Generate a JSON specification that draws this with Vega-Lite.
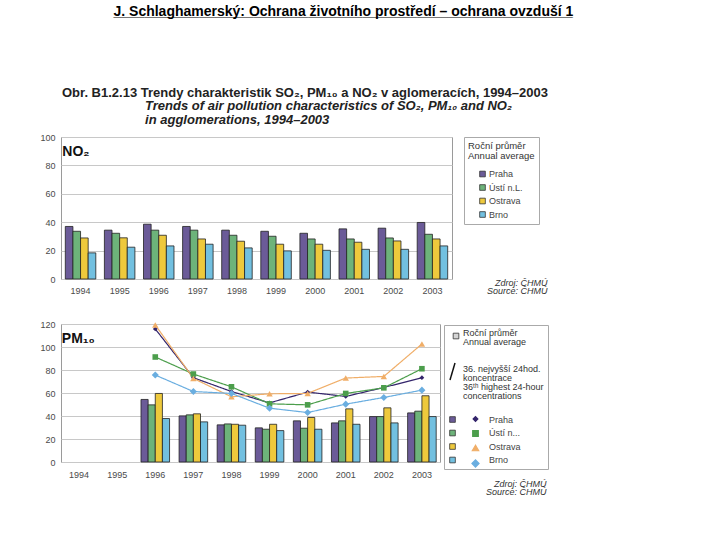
{
  "$schema": "https://vega.github.io/schema/vega-lite/v6.json",
  "background": "white",
  "padding": {"left": 39, "top": 5, "right": 5, "bottom": 5},
  "config": {
    "font": "Liberation Sans",
    "view": {"stroke": "#9a9a9a", "strokeWidth": 1},
    "axis": {"labelFont": "Liberation Sans", "labelFontSize": 9, "labelColor": "#4a4a4a", "domain": false, "ticks": false, "gridColor": "#c8c8c8", "gridWidth": 1},
    "legend": {"labelFont": "Liberation Sans", "titleFont": "Liberation Sans", "labelFontWeight": "normal"}
  },
  "title": {"text": "J. Schlaghamerský: Ochrana životního prostředí – ochrana ovzduší 1", "subtitle": "___________________________________________________________", "anchor": "start", "frame": "bounds", "dx": 74, "fontSize": 14, "fontWeight": "bold", "color": "#000", "subtitleFontSize": 14, "subtitleFontWeight": "bold", "subtitleColor": "#000", "subtitlePadding": -14, "offset": 67},
  "datasets": {
    "no2": [
      {"year": "1994", "city": "Praha", "value": 37}, {"year": "1994", "city": "Ústí n.L.", "value": 33.6}, {"year": "1994", "city": "Ostrava", "value": 28.9}, {"year": "1994", "city": "Brno", "value": 18.4},
      {"year": "1995", "city": "Praha", "value": 34.4}, {"year": "1995", "city": "Ústí n.L.", "value": 32.2}, {"year": "1995", "city": "Ostrava", "value": 29}, {"year": "1995", "city": "Brno", "value": 22.4},
      {"year": "1996", "city": "Praha", "value": 38.6}, {"year": "1996", "city": "Ústí n.L.", "value": 34.4}, {"year": "1996", "city": "Ostrava", "value": 30.8}, {"year": "1996", "city": "Brno", "value": 23.3},
      {"year": "1997", "city": "Praha", "value": 37}, {"year": "1997", "city": "Ústí n.L.", "value": 34.4}, {"year": "1997", "city": "Ostrava", "value": 28.2}, {"year": "1997", "city": "Brno", "value": 24.5},
      {"year": "1998", "city": "Praha", "value": 34.4}, {"year": "1998", "city": "Ústí n.L.", "value": 30.8}, {"year": "1998", "city": "Ostrava", "value": 26.6}, {"year": "1998", "city": "Brno", "value": 21.9},
      {"year": "1999", "city": "Praha", "value": 33.6}, {"year": "1999", "city": "Ústí n.L.", "value": 30.1}, {"year": "1999", "city": "Ostrava", "value": 24.5}, {"year": "1999", "city": "Brno", "value": 19.8},
      {"year": "2000", "city": "Praha", "value": 32.2}, {"year": "2000", "city": "Ústí n.L.", "value": 28.2}, {"year": "2000", "city": "Ostrava", "value": 24.5}, {"year": "2000", "city": "Brno", "value": 20.2},
      {"year": "2001", "city": "Praha", "value": 35.3}, {"year": "2001", "city": "Ústí n.L.", "value": 28.2}, {"year": "2001", "city": "Ostrava", "value": 25.9}, {"year": "2001", "city": "Brno", "value": 20.9},
      {"year": "2002", "city": "Praha", "value": 35.8}, {"year": "2002", "city": "Ústí n.L.", "value": 28.9}, {"year": "2002", "city": "Ostrava", "value": 26.8}, {"year": "2002", "city": "Brno", "value": 20.9},
      {"year": "2003", "city": "Praha", "value": 39.8}, {"year": "2003", "city": "Ústí n.L.", "value": 31.5}, {"year": "2003", "city": "Ostrava", "value": 28.2}, {"year": "2003", "city": "Brno", "value": 23.3}
    ],
    "pmavg": [
      {"year": "1996", "city": "Praha", "value": 54.4}, {"year": "1996", "city": "Ústí n.L.", "value": 49.7}, {"year": "1996", "city": "Ostrava", "value": 59.6}, {"year": "1996", "city": "Brno", "value": 37.8},
      {"year": "1997", "city": "Praha", "value": 40.1}, {"year": "1997", "city": "Ústí n.L.", "value": 41}, {"year": "1997", "city": "Ostrava", "value": 41.9}, {"year": "1997", "city": "Brno", "value": 34.9},
      {"year": "1998", "city": "Praha", "value": 32.3}, {"year": "1998", "city": "Ústí n.L.", "value": 33.1}, {"year": "1998", "city": "Ostrava", "value": 32.8}, {"year": "1998", "city": "Brno", "value": 32},
      {"year": "1999", "city": "Praha", "value": 29.7}, {"year": "1999", "city": "Ústí n.L.", "value": 28.5}, {"year": "1999", "city": "Ostrava", "value": 32.8}, {"year": "1999", "city": "Brno", "value": 27.3},
      {"year": "2000", "city": "Praha", "value": 35.8}, {"year": "2000", "city": "Ústí n.L.", "value": 29.4}, {"year": "2000", "city": "Ostrava", "value": 38.7}, {"year": "2000", "city": "Brno", "value": 28.5},
      {"year": "2001", "city": "Praha", "value": 34}, {"year": "2001", "city": "Ústí n.L.", "value": 35.8}, {"year": "2001", "city": "Ostrava", "value": 46.2}, {"year": "2001", "city": "Brno", "value": 32.8},
      {"year": "2002", "city": "Praha", "value": 39.5}, {"year": "2002", "city": "Ústí n.L.", "value": 39.5}, {"year": "2002", "city": "Ostrava", "value": 47.1}, {"year": "2002", "city": "Brno", "value": 34},
      {"year": "2003", "city": "Praha", "value": 42.7}, {"year": "2003", "city": "Ústí n.L.", "value": 44.2}, {"year": "2003", "city": "Ostrava", "value": 57.6}, {"year": "2003", "city": "Brno", "value": 39.5}
    ],
    "pm36": [
      {"year": "1996", "city": "Praha", "value": 115.7}, {"year": "1997", "city": "Praha", "value": 73.3}, {"year": "1998", "city": "Praha", "value": 61.3}, {"year": "1999", "city": "Praha", "value": 51.4}, {"year": "2000", "city": "Praha", "value": 60.8}, {"year": "2001", "city": "Praha", "value": 57}, {"year": "2002", "city": "Praha", "value": 64.8}, {"year": "2003", "city": "Praha", "value": 73.3},
      {"year": "1996", "city": "Ústí n...", "value": 91.3}, {"year": "1997", "city": "Ústí n...", "value": 76.5}, {"year": "1998", "city": "Ústí n...", "value": 65.4}, {"year": "1999", "city": "Ústí n...", "value": 50.6}, {"year": "2000", "city": "Ústí n...", "value": 49.7}, {"year": "2001", "city": "Ústí n...", "value": 59.6}, {"year": "2002", "city": "Ústí n...", "value": 64.5}, {"year": "2003", "city": "Ústí n...", "value": 81.1},
      {"year": "1996", "city": "Ostrava", "value": 119.2}, {"year": "1997", "city": "Ostrava", "value": 72.7}, {"year": "1998", "city": "Ostrava", "value": 56.7}, {"year": "1999", "city": "Ostrava", "value": 59.3}, {"year": "2000", "city": "Ostrava", "value": 59.6}, {"year": "2001", "city": "Ostrava", "value": 73}, {"year": "2002", "city": "Ostrava", "value": 74.4}, {"year": "2003", "city": "Ostrava", "value": 102.6},
      {"year": "1996", "city": "Brno", "value": 75.6}, {"year": "1997", "city": "Brno", "value": 61.3}, {"year": "1998", "city": "Brno", "value": 59.6}, {"year": "1999", "city": "Brno", "value": 46.8}, {"year": "2000", "city": "Brno", "value": 43}, {"year": "2001", "city": "Brno", "value": 50.3}, {"year": "2002", "city": "Brno", "value": 56.1}, {"year": "2003", "city": "Brno", "value": 62.5}
    ]
  },
  "spacing": 23,
  "resolve": {
    "scale": {"x": "independent", "y": "independent", "xOffset": "independent", "fill": "independent", "color": "independent", "shape": "independent", "size": "independent", "opacity": "independent", "strokeDash": "independent"}
  },
  "vconcat": [
    {
      "width": 391,
      "height": 142,
      "title": {
        "text": "Obr. B1.2.13  Trendy charakteristik SO₂, PM₁₀ a NO₂ v aglomeracích, 1994–2003",
        "subtitle": ["\u200b\u00a0\u00a0\u00a0\u00a0\u00a0\u00a0\u00a0\u00a0\u00a0\u00a0\u00a0\u00a0\u00a0\u00a0\u00a0\u00a0\u00a0\u00a0\u00a0\u00a0\u00a0\u00a0\u00a0Trends of air pollution characteristics of SO₂, PM₁₀ and NO₂", "\u200b\u00a0\u00a0\u00a0\u00a0\u00a0\u00a0\u00a0\u00a0\u00a0\u00a0\u00a0\u00a0\u00a0\u00a0\u00a0\u00a0\u00a0\u00a0\u00a0\u00a0\u00a0\u00a0\u00a0in agglomerations, 1994–2003"],
        "anchor": "start", "frame": "group", "dx": 1,
        "fontSize": 13, "fontWeight": "bold", "color": "#222",
        "subtitleFontSize": 13, "subtitleFontWeight": "bold", "subtitleFontStyle": "italic", "subtitleColor": "#222", "subtitlePadding": 0.5, "subtitleLineHeight": 14,
        "offset": 6
      },
      "layer": [
        {
          "data": {"name": "no2"},
          "mark": {"type": "bar", "stroke": "#222", "strokeWidth": 0.8},
          "encoding": {
            "x": {"field": "year", "type": "nominal", "sort": null,
              "scale": {"domain": ["1994", "1995", "1996", "1997", "1998", "1999", "2000", "2001", "2002", "2003"], "paddingInner": 0.22, "paddingOuter": 0.11},
              "axis": {"labelAngle": 0, "labelPadding": 7, "grid": false, "title": ["Zdroj: ČHMÚ", "Source: ČHMÚ"], "titleX": 486, "titleY": 6, "titleAlign": "right", "titleAnchor": null, "titleBaseline": "alphabetic", "titleFontStyle": "italic", "titleFontWeight": "normal", "titleFontSize": 9, "titleColor": "#333", "titleLineHeight": 8.5}},
            "xOffset": {"field": "city", "type": "nominal", "sort": null, "scale": {"domain": ["Praha", "Ústí n.L.", "Ostrava", "Brno"]}},
            "y": {"field": "value", "type": "quantitative", "scale": {"domain": [0, 100]}, "axis": {"values": [0, 20, 40, 60, 80, 100], "title": null, "labelPadding": 6, "labelOverlap": false}},
            "fill": {"field": "city", "type": "nominal", "sort": null,
              "scale": {"domain": ["Praha", "Ústí n.L.", "Ostrava", "Brno"], "range": ["#6b5b98", "#6db37a", "#eec93c", "#72c0e0"]},
              "legend": {"orient": "none", "legendX": 403, "legendY": 0, "strokeColor": "#aaa", "padding": 4,
                "title": ["Roční průměr", "Annual average"], "titleFontSize": 9.5, "titleFontWeight": "normal", "titleColor": "#333", "titleLineHeight": 10, "titlePadding": 9,
                "labelFontSize": 9, "labelFontWeight": "normal", "labelColor": "#444", "labelOffset": 2, "symbolType": "square", "symbolSize": 32, "symbolOffset": 10, "symbolStrokeColor": "#333", "symbolStrokeWidth": 0.8, "rowPadding": 3.5}}
          }
        },
        {
          "data": {"values": [{"label": "NO₂"}]},
          "mark": {"type": "text", "align": "left", "baseline": "middle", "fontSize": 14, "fontWeight": "bold", "color": "#111", "dx": -3},
          "encoding": {
            "x": {"datum": "1994", "bandPosition": 0},
            "y": {"datum": 89.5, "axis": {"values": [0, 20, 40, 60, 80, 100], "title": null, "labelPadding": 6, "labelOverlap": false}},
            "text": {"field": "label"}
          }
        }
      ]
    },
    {
      "width": 379,
      "height": 138,
      "layer": [
        {
          "data": {"name": "pmavg"},
          "mark": {"type": "bar", "stroke": "#222", "strokeWidth": 0.8},
          "encoding": {
            "x": {"field": "year", "type": "nominal", "sort": null,
              "scale": {"domain": ["1994", "1995", "1996", "1997", "1998", "1999", "2000", "2001", "2002", "2003"], "paddingInner": 0.25, "paddingOuter": 0.1},
              "axis": {"labelAngle": 0, "labelPadding": 8, "grid": false, "title": ["Zdroj: ČHMÚ", "Source: ČHMÚ"], "titleX": 485, "titleY": 24, "titleAlign": "right", "titleAnchor": null, "titleBaseline": "alphabetic", "titleFontStyle": "italic", "titleFontWeight": "normal", "titleFontSize": 9, "titleColor": "#333", "titleLineHeight": 8.5}},
            "xOffset": {"field": "city", "type": "nominal", "sort": null, "scale": {"domain": ["Praha", "Ústí n.L.", "Ostrava", "Brno"]}},
            "y": {"field": "value", "type": "quantitative", "scale": {"domain": [0, 120]}, "axis": {"values": [0, 20, 40, 60, 80, 100, 120], "title": null, "labelPadding": 6, "labelOverlap": false}},
            "fill": {"field": "city", "type": "nominal", "sort": null,
              "scale": {"domain": ["Praha", "Ústí n.L.", "Ostrava", "Brno"], "range": ["#6b5b98", "#6db37a", "#eec93c", "#72c0e0"]},
              "legend": {"orient": "none", "legendX": 383, "legendY": 1, "strokeColor": "#aaa", "padding": 4,
                "title": ["\u200b\u00a0\u00a0\u00a0\u00a0\u00a0\u00a0Roční průměr", "\u200b\u00a0\u00a0\u00a0\u00a0\u00a0\u00a0Annual average", "\u200b\u00a0", "\u200b\u00a0", "\u200b\u00a0\u00a0\u00a0\u00a0\u00a0\u00a036. nejvyšší 24hod.", "\u200b\u00a0\u00a0\u00a0\u00a0\u00a0\u00a0koncentrace", "\u200b\u00a0\u00a0\u00a0\u00a0\u00a0\u00a036ᵗʰ highest 24-hour", "\u200b\u00a0\u00a0\u00a0\u00a0\u00a0\u00a0concentrations"],
                "titleFontSize": 9, "titleFontWeight": "normal", "titleColor": "#333", "titleLineHeight": 9, "titlePadding": 14,
                "labelExpr": "datum.label == 'Ústí n.L.' ? 'Ústí n...' : datum.label", "labelFontSize": 9, "labelFontWeight": "normal", "labelColor": "#444", "labelOffset": 32,
                "symbolType": "square", "symbolSize": 32, "symbolStrokeColor": "#333", "symbolStrokeWidth": 0.8, "rowPadding": 3.5}},
            "opacity": {"datum": "Roční průměr", "type": "ordinal", "scale": {"range": [1, 1]},
              "legend": {"orient": "none", "legendX": 390, "legendY": 7, "title": null, "labelExpr": "''", "symbolType": "square", "symbolSize": 32, "symbolFillColor": "#d4d4d4", "symbolStrokeColor": "#333", "symbolStrokeWidth": 0.8}}
          }
        },
        {
          "data": {"name": "pm36"},
          "mark": {"type": "line", "strokeWidth": 1.2},
          "encoding": {
            "x": {"field": "year", "type": "nominal", "sort": null},
            "y": {"field": "value", "type": "quantitative", "axis": {"values": [0, 20, 40, 60, 80, 100, 120], "title": null, "labelPadding": 6, "labelOverlap": false}},
            "color": {"field": "city", "type": "nominal", "sort": null,
              "scale": {"domain": ["Praha", "Ústí n...", "Ostrava", "Brno"], "range": ["#33246b", "#4c9e4c", "#f0ae68", "#6aaee0"]},
              "legend": {"orient": "none", "legendX": 410, "legendY": 90.5, "title": null, "labelExpr": "'\u00a0'",
                "labelFontSize": 9, "labelOffset": 3, "symbolSize": 40, "symbolStrokeWidth": 1.2, "rowPadding": 3.5}},
            "strokeDash": {"datum": "36", "type": "nominal", "scale": {"range": [[1, 0]]},
              "legend": {"orient": "none", "legendX": 386.5, "legendY": 42.5, "title": null, "labelExpr": "''", "symbolType": "M-1,3.4L1,-3.4", "symbolSize": 25, "symbolStrokeColor": "#111", "symbolStrokeWidth": 1.5}}
          }
        },
        {
          "data": {"name": "pm36"},
          "mark": {"type": "point", "filled": true, "opacity": 1},
          "encoding": {
            "x": {"field": "year", "type": "nominal", "sort": null},
            "y": {"field": "value", "type": "quantitative", "axis": {"values": [0, 20, 40, 60, 80, 100, 120], "title": null, "labelPadding": 6, "labelOverlap": false}},
            "color": {"field": "city", "type": "nominal", "sort": null},
            "shape": {"field": "city", "type": "nominal", "sort": null, "scale": {"domain": ["Praha", "Ústí n...", "Ostrava", "Brno"], "range": ["diamond", "square", "triangle-up", "diamond"]}, "legend": null},
            "size": {"field": "city", "type": "nominal", "sort": null, "scale": {"domain": ["Praha", "Ústí n...", "Ostrava", "Brno"], "range": [22, 50, 26, 22]}, "legend": null}
          }
        },
        {
          "data": {"values": [{"label": "PM₁₀"}]},
          "mark": {"type": "text", "align": "left", "baseline": "middle", "fontSize": 14, "fontWeight": "bold", "color": "#111", "dx": -3},
          "encoding": {
            "x": {"datum": "1994", "bandPosition": 0},
            "y": {"datum": 107, "axis": {"values": [0, 20, 40, 60, 80, 100, 120], "title": null, "labelPadding": 6, "labelOverlap": false}},
            "text": {"field": "label"}
          }
        }
      ]
    }
  ]
}
